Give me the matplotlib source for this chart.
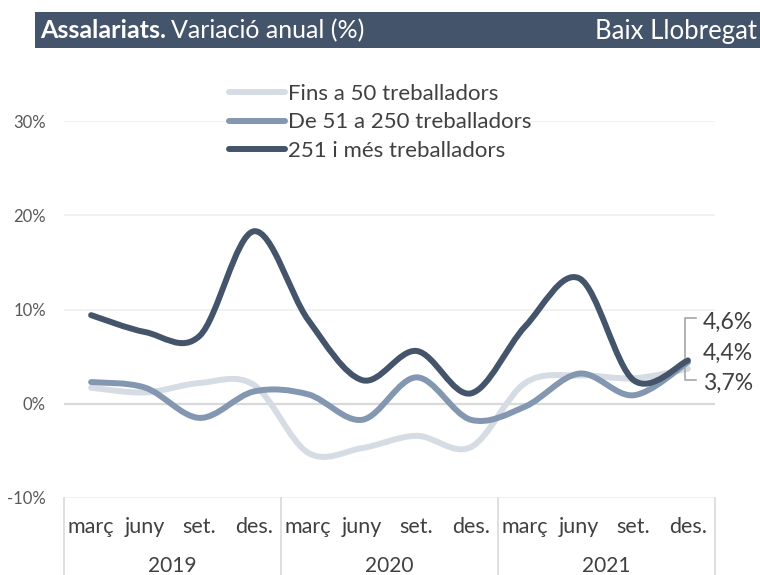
import matplotlib
matplotlib.use("Agg")
import matplotlib.pyplot as plt
from matplotlib.path import Path
from matplotlib.patches import PathPatch, Rectangle
from matplotlib.lines import Line2D
import matplotlib.transforms as mtransforms

plt.rcParams['font.family'] = ['Lato', 'DejaVu Sans']

months = ["març", "juny", "set.", "des."] * 3
years = ["2019", "2020", "2021"]
series_names = ["Fins a 50 treballadors", "De 51 a 250 treballadors", "251 i més treballadors"]
small = [1.7, 1.2, 2.2, 2.0, -5.2, -4.7, -3.4, -4.6, 2.2, 3.0, 2.7, 3.7]
medium = [2.3, 1.7, -1.5, 1.3, 1.0, -1.7, 2.8, -1.7, -0.3, 3.2, 0.9, 4.4]
large = [9.4, 7.6, 7.2, 18.3, 8.9, 2.5, 5.6, 1.1, 8.2, 13.3, 2.5, 4.6]
end_labels = ["4,6%", "4,4%", "3,7%"]
colors = ["#D6DCE4", "#8497B0", "#44546A"]

W, H = 760, 575
fig = plt.figure(figsize=(7.6, 5.75), dpi=100)

# plot area in pixels
left, right, top, bottom = 64, 715, 121, 498
ax = fig.add_axes([left / W, 1 - bottom / H, (right - left) / W, (bottom - top) / H])
ax.set_xlim(-0.5, 11.5)
ax.set_ylim(-10, 30)
ax.set_yticks([-10, 0, 10, 20, 30])
ax.set_yticklabels(["-10%", "0%", "10%", "20%", "30%"])
ax.tick_params(axis='y', length=0, pad=13, labelsize=12, labelcolor="#595959")
ax.set_xticks([])
for s in ax.spines.values():
    s.set_visible(False)
for v in [-10, 10, 20, 30]:
    ax.axhline(v, color="#EFEFEF", lw=1.2, zorder=0)
ax.axhline(0, color="#D9D9D9", lw=1.6, zorder=0)


def smooth_path(ys):
    # Bezier curve through the points, Excel-like smoothing
    xs = list(range(len(ys)))
    pts = list(zip(xs, ys))
    verts = [pts[0]]
    codes = [Path.MOVETO]
    n = len(pts)
    for i in range(n - 1):
        p0 = pts[i - 1] if i > 0 else pts[i]
        p1 = pts[i]
        p2 = pts[i + 1]
        p3 = pts[i + 2] if i + 2 < n else pts[i + 1]
        c1 = (p1[0] + (p2[0] - p0[0]) / 6, p1[1] + (p2[1] - p0[1]) / 6)
        c2 = (p2[0] - (p3[0] - p1[0]) / 6, p2[1] - (p3[1] - p1[1]) / 6)
        verts += [c1, c2, p2]
        codes += [Path.CURVE4] * 3
    return Path(verts, codes)


for ys, c in zip([small, medium, large], colors):
    patch = PathPatch(smooth_path(ys), fill=False, edgecolor=c, lw=4.3,
                      capstyle='round', joinstyle='round', zorder=3)
    ax.add_patch(patch)

# category axis
tr = mtransforms.blended_transform_factory(ax.transData, ax.transAxes)
h = bottom - top
for i, m in enumerate(months):
    ax.text(i, -29 / h, m, transform=tr, ha='center', va='center',
            fontsize=15.5, color="#404040")
for j, yr in enumerate(years):
    ax.text(j * 4 + 1.5, -68 / h, yr, transform=tr, ha='center', va='center',
            fontsize=15, color="#404040")
for xb in [-0.5, 3.5, 7.5, 11.5]:
    ax.plot([xb, xb], [0, -(H - bottom) / h], transform=tr, color="#D9D9D9",
            lw=1.2, clip_on=False)

# end labels with leader lines
last = len(large) - 1
for lab, ys, py in zip(end_labels, [large, medium, small], [322, 353, 383]):
    ax.annotate(lab, xy=(last, ys[-1]), xytext=(703, H - py),
                textcoords='figure pixels', va='center', ha='left', fontsize=16.5,
                color="#404040")
fig.add_artist(Line2D([696 / W, 685 / W, 685 / W], [1 - 318 / H, 1 - 318 / H, 1 - 358 / H],
                      color="#A6A6A6", lw=1.2))
fig.add_artist(Line2D([685 / W, 685 / W, 696 / W], [1 - 368 / H, 1 - 380 / H, 1 - 380 / H],
                      color="#A6A6A6", lw=1.2))

# legend
handles = [Line2D([], [], color=c, lw=4.3, solid_capstyle='round') for c in colors]
fig.legend(handles, series_names, loc='upper left', bbox_to_anchor=(229 / W, 1 - 84 / H),
           frameon=False, fontsize=16, handlelength=2.5, handletextpad=0.15,
           labelspacing=0.38, borderpad=0, borderaxespad=0, labelcolor="#404040")

# title bar
fig.add_artist(Rectangle((35 / W, 1 - 48 / H), 1 - 35 / W, 36 / H,
                         transform=fig.transFigure, facecolor="#44546A", edgecolor='none'))
t1 = fig.text(40 / W, 1 - 31 / H, "Assalariats.", color="white", fontsize=18,
              fontweight='bold', va='center', ha='left')
fig.canvas.draw()
bb = t1.get_window_extent()
fig.text(bb.x1 / W + 5 / W, 1 - 31 / H, "Variació anual (%)", color="white",
         fontsize=18, va='center', ha='left')
fig.text(757 / W, 1 - 31 / H, "Baix Llobregat", color="white", fontsize=18.5,
         va='center', ha='right')

fig.savefig("out.png", dpi=100)
